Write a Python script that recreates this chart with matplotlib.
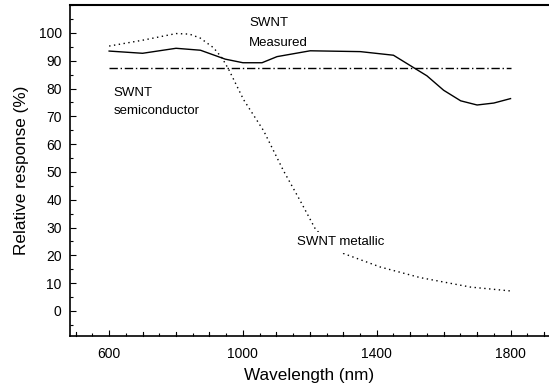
import matplotlib
matplotlib.use('Agg')
import matplotlib.pyplot as plt
from matplotlib.ticker import MultipleLocator, FixedLocator

plt.rcParams['font.family'] = ['Liberation Sans', 'DejaVu Sans']

# SWNT measured (solid)
meas_x = [600, 700, 800, 873, 947, 1000, 1057, 1102, 1201, 1351, 1450, 1550, 1600, 1651, 1700, 1750, 1800]
meas_y = [93.5, 92.7, 94.5, 93.8, 90.6, 89.3, 89.3, 91.5, 93.6, 93.3, 92.0, 84.6, 79.4, 75.6, 74.1, 74.8, 76.4]

# SWNT semiconductor (dash-dot)
semi_x = [600, 1800]
semi_y = [87.3, 87.3]

# SWNT metallic (dotted)
metal_x = [600, 700, 800, 840, 872, 912, 937, 957, 1002, 1062, 1121, 1171, 1216, 1258, 1300, 1411, 1530, 1680, 1800]
metal_y = [95.3, 97.4, 99.8, 99.6, 98.2, 94.7, 91.1, 87.0, 76.0, 64.8, 50.5, 39.7, 29.6, 24.2, 20.7, 15.8, 12.0, 8.6, 7.2]

fig = plt.figure(figsize=(5.49, 3.91), dpi=100)
ax = fig.add_axes([0.1275, 0.1407, 0.8725, 0.846])

ax.plot(meas_x, meas_y, color='black', lw=1.0, zorder=3)
ax.plot(semi_x, semi_y, color='black', lw=1.0, ls=(0, (6, 2, 1, 2)), zorder=3)
ax.plot(metal_x, metal_y, color='black', lw=1.0, ls=(0, (1, 2.5)), zorder=2)

ax.text(1018, 102.5, 'SWNT', fontsize=9.5, va='baseline')
ax.text(1018, 95.3, 'Measured', fontsize=9.5, va='baseline')
ax.text(613, 77.4, 'SWNT', fontsize=9.5, va='baseline')
ax.text(613, 70.8, 'semiconductor', fontsize=9.5, va='baseline')
ax.text(1161, 23.6, 'SWNT metallic', fontsize=9.5, va='baseline', zorder=4,
        bbox=dict(facecolor='white', edgecolor='none', pad=3))

ax.set_xlim(483, 1915)
ax.set_ylim(-9, 110)
ax.xaxis.set_major_locator(FixedLocator([600, 1000, 1400, 1800]))
ax.xaxis.set_minor_locator(MultipleLocator(50))
ax.yaxis.set_major_locator(MultipleLocator(10))
ax.yaxis.set_minor_locator(MultipleLocator(5))
ax.set_yticks(range(0, 101, 10))

# extra 100-step ticks without labels
for xv in range(500, 1901, 100):
    if xv not in (600, 1000, 1400, 1800):
        ax.plot([xv, xv], [-9, -7.6], color='black', lw=0.8, clip_on=False)

ax.tick_params(which='major', direction='in', length=4, width=0.8, labelsize=10, pad=8)
ax.tick_params(which='minor', direction='in', length=2, width=0.8)
ax.tick_params(axis='y', pad=6)

ax.spines['right'].set_visible(False)
ax.spines['top'].set_linewidth(1.5)
ax.spines['left'].set_linewidth(1.2)
ax.spines['bottom'].set_linewidth(1.2)

ax.set_xlabel('Wavelength (nm)', fontsize=12.3, labelpad=5)
ax.set_ylabel('Relative response (%)', fontsize=12.3, labelpad=7)

fig.savefig('out.png', dpi=100)
